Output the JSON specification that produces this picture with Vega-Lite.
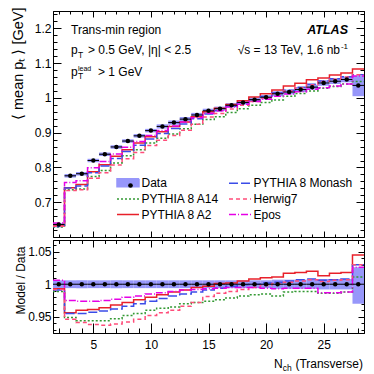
{
"$schema": "https://vega.github.io/schema/vega-lite/v6.json",
"padding": {"left": 9, "top": 6, "right": 0, "bottom": 0},
"spacing": 0,
"config": {
  "view": {"stroke": "black", "strokeWidth": 1},
  "font": "Liberation Sans",
  "axis": {"labelFont": "Liberation Sans", "labelFontSize": 12, "labelColor": "black", "tickColor": "black", "domainColor": "black", "titleFont": "Liberation Sans", "titleColor": "black", "titleFontWeight": "normal", "grid": false, "tickWidth": 1, "domainWidth": 1, "labelOverlap": false, "labelFlush": false, "zindex": 1}
},
"datasets": {
  "bins": [
    {"n":2,"lo":1.5,"hi":2.5,"d":0.636,"dlo":0.632,"dhi":0.640,"rlo":0.994,"rhi":1.006},
    {"n":3,"lo":2.5,"hi":3.5,"d":0.776,"dlo":0.771,"dhi":0.781,"rlo":0.994,"rhi":1.006},
    {"n":4,"lo":3.5,"hi":4.5,"d":0.782,"dlo":0.777,"dhi":0.787,"rlo":0.994,"rhi":1.006},
    {"n":5,"lo":4.5,"hi":5.5,"d":0.820,"dlo":0.815,"dhi":0.825,"rlo":0.994,"rhi":1.006},
    {"n":6,"lo":5.5,"hi":6.5,"d":0.838,"dlo":0.833,"dhi":0.843,"rlo":0.994,"rhi":1.006},
    {"n":7,"lo":6.5,"hi":7.5,"d":0.859,"dlo":0.854,"dhi":0.864,"rlo":0.994,"rhi":1.006},
    {"n":8,"lo":7.5,"hi":8.5,"d":0.876,"dlo":0.871,"dhi":0.881,"rlo":0.994,"rhi":1.006},
    {"n":9,"lo":8.5,"hi":9.5,"d":0.891,"dlo":0.886,"dhi":0.896,"rlo":0.994,"rhi":1.006},
    {"n":10,"lo":9.5,"hi":10.5,"d":0.906,"dlo":0.901,"dhi":0.911,"rlo":0.994,"rhi":1.006},
    {"n":11,"lo":10.5,"hi":11.5,"d":0.918,"dlo":0.912,"dhi":0.924,"rlo":0.994,"rhi":1.006},
    {"n":12,"lo":11.5,"hi":12.5,"d":0.929,"dlo":0.923,"dhi":0.935,"rlo":0.994,"rhi":1.006},
    {"n":13,"lo":12.5,"hi":13.5,"d":0.939,"dlo":0.933,"dhi":0.945,"rlo":0.994,"rhi":1.006},
    {"n":14,"lo":13.5,"hi":14.5,"d":0.951,"dlo":0.945,"dhi":0.957,"rlo":0.994,"rhi":1.006},
    {"n":15,"lo":14.5,"hi":15.5,"d":0.963,"dlo":0.957,"dhi":0.969,"rlo":0.994,"rhi":1.006},
    {"n":16,"lo":15.5,"hi":16.5,"d":0.969,"dlo":0.963,"dhi":0.975,"rlo":0.994,"rhi":1.006},
    {"n":17,"lo":16.5,"hi":17.5,"d":0.979,"dlo":0.973,"dhi":0.985,"rlo":0.994,"rhi":1.006},
    {"n":18,"lo":17.5,"hi":18.5,"d":0.987,"dlo":0.981,"dhi":0.993,"rlo":0.994,"rhi":1.006},
    {"n":19,"lo":18.5,"hi":19.5,"d":0.995,"dlo":0.989,"dhi":1.001,"rlo":0.994,"rhi":1.006},
    {"n":20,"lo":19.5,"hi":20.5,"d":1.002,"dlo":0.996,"dhi":1.008,"rlo":0.994,"rhi":1.006},
    {"n":21,"lo":20.5,"hi":21.5,"d":1.012,"dlo":1.005,"dhi":1.019,"rlo":0.993,"rhi":1.007},
    {"n":22,"lo":21.5,"hi":22.5,"d":1.017,"dlo":1.010,"dhi":1.024,"rlo":0.993,"rhi":1.007},
    {"n":23,"lo":22.5,"hi":23.5,"d":1.024,"dlo":1.017,"dhi":1.031,"rlo":0.993,"rhi":1.007},
    {"n":24,"lo":23.5,"hi":24.5,"d":1.031,"dlo":1.024,"dhi":1.038,"rlo":0.993,"rhi":1.007},
    {"n":25,"lo":24.5,"hi":25.5,"d":1.043,"dlo":1.035,"dhi":1.051,"rlo":0.992,"rhi":1.008},
    {"n":26,"lo":25.5,"hi":26.5,"d":1.048,"dlo":1.040,"dhi":1.056,"rlo":0.992,"rhi":1.008},
    {"n":27,"lo":26.5,"hi":27.5,"d":1.053,"dlo":1.045,"dhi":1.061,"rlo":0.992,"rhi":1.008},
    {"n":28,"lo":27.5,"hi":28.5,"d":1.036,"dlo":1.005,"dhi":1.063,"rlo":0.970,"rhi":1.026}
  ],
  "models": [
    {"gen":"PYTHIA 8 A14","n":2,"lo":1.5,"hi":2.5,"v":0.629,"r":0.989},
    {"gen":"PYTHIA 8 A14","n":3,"lo":2.5,"hi":3.5,"v":0.736,"r":0.949},
    {"gen":"PYTHIA 8 A14","n":4,"lo":3.5,"hi":4.5,"v":0.738,"r":0.944},
    {"gen":"PYTHIA 8 A14","n":5,"lo":4.5,"hi":5.5,"v":0.774,"r":0.944},
    {"gen":"PYTHIA 8 A14","n":6,"lo":5.5,"hi":6.5,"v":0.791,"r":0.944},
    {"gen":"PYTHIA 8 A14","n":7,"lo":6.5,"hi":7.5,"v":0.813,"r":0.947},
    {"gen":"PYTHIA 8 A14","n":8,"lo":7.5,"hi":8.5,"v":0.834,"r":0.952},
    {"gen":"PYTHIA 8 A14","n":9,"lo":8.5,"hi":9.5,"v":0.851,"r":0.955},
    {"gen":"PYTHIA 8 A14","n":10,"lo":9.5,"hi":10.5,"v":0.870,"r":0.960},
    {"gen":"PYTHIA 8 A14","n":11,"lo":10.5,"hi":11.5,"v":0.884,"r":0.963},
    {"gen":"PYTHIA 8 A14","n":12,"lo":11.5,"hi":12.5,"v":0.896,"r":0.965},
    {"gen":"PYTHIA 8 A14","n":13,"lo":12.5,"hi":13.5,"v":0.911,"r":0.970},
    {"gen":"PYTHIA 8 A14","n":14,"lo":13.5,"hi":14.5,"v":0.924,"r":0.972},
    {"gen":"PYTHIA 8 A14","n":15,"lo":14.5,"hi":15.5,"v":0.938,"r":0.974},
    {"gen":"PYTHIA 8 A14","n":16,"lo":15.5,"hi":16.5,"v":0.946,"r":0.976},
    {"gen":"PYTHIA 8 A14","n":17,"lo":16.5,"hi":17.5,"v":0.958,"r":0.979},
    {"gen":"PYTHIA 8 A14","n":18,"lo":17.5,"hi":18.5,"v":0.969,"r":0.982},
    {"gen":"PYTHIA 8 A14","n":19,"lo":18.5,"hi":19.5,"v":0.979,"r":0.984},
    {"gen":"PYTHIA 8 A14","n":20,"lo":19.5,"hi":20.5,"v":0.987,"r":0.985},
    {"gen":"PYTHIA 8 A14","n":21,"lo":20.5,"hi":21.5,"v":0.994,"r":0.982},
    {"gen":"PYTHIA 8 A14","n":22,"lo":21.5,"hi":22.5,"v":1.005,"r":0.988},
    {"gen":"PYTHIA 8 A14","n":23,"lo":22.5,"hi":23.5,"v":1.013,"r":0.989},
    {"gen":"PYTHIA 8 A14","n":24,"lo":23.5,"hi":24.5,"v":1.020,"r":0.989},
    {"gen":"PYTHIA 8 A14","n":25,"lo":24.5,"hi":25.5,"v":1.028,"r":0.986},
    {"gen":"PYTHIA 8 A14","n":26,"lo":25.5,"hi":26.5,"v":1.033,"r":0.986},
    {"gen":"PYTHIA 8 A14","n":27,"lo":26.5,"hi":27.5,"v":1.040,"r":0.988},
    {"gen":"PYTHIA 8 A14","n":28,"lo":27.5,"hi":28.5,"v":1.047,"r":1.011},
    {"gen":"PYTHIA 8 A2","n":2,"lo":1.5,"hi":2.5,"v":0.632,"r":0.993},
    {"gen":"PYTHIA 8 A2","n":3,"lo":2.5,"hi":3.5,"v":0.742,"r":0.956},
    {"gen":"PYTHIA 8 A2","n":4,"lo":3.5,"hi":4.5,"v":0.751,"r":0.960},
    {"gen":"PYTHIA 8 A2","n":5,"lo":4.5,"hi":5.5,"v":0.788,"r":0.961},
    {"gen":"PYTHIA 8 A2","n":6,"lo":5.5,"hi":6.5,"v":0.808,"r":0.964},
    {"gen":"PYTHIA 8 A2","n":7,"lo":6.5,"hi":7.5,"v":0.832,"r":0.968},
    {"gen":"PYTHIA 8 A2","n":8,"lo":7.5,"hi":8.5,"v":0.851,"r":0.972},
    {"gen":"PYTHIA 8 A2","n":9,"lo":8.5,"hi":9.5,"v":0.870,"r":0.976},
    {"gen":"PYTHIA 8 A2","n":10,"lo":9.5,"hi":10.5,"v":0.888,"r":0.980},
    {"gen":"PYTHIA 8 A2","n":11,"lo":10.5,"hi":11.5,"v":0.903,"r":0.984},
    {"gen":"PYTHIA 8 A2","n":12,"lo":11.5,"hi":12.5,"v":0.918,"r":0.988},
    {"gen":"PYTHIA 8 A2","n":13,"lo":12.5,"hi":13.5,"v":0.931,"r":0.991},
    {"gen":"PYTHIA 8 A2","n":14,"lo":13.5,"hi":14.5,"v":0.946,"r":0.995},
    {"gen":"PYTHIA 8 A2","n":15,"lo":14.5,"hi":15.5,"v":0.960,"r":0.997},
    {"gen":"PYTHIA 8 A2","n":16,"lo":15.5,"hi":16.5,"v":0.970,"r":1.001},
    {"gen":"PYTHIA 8 A2","n":17,"lo":16.5,"hi":17.5,"v":0.981,"r":1.002},
    {"gen":"PYTHIA 8 A2","n":18,"lo":17.5,"hi":18.5,"v":0.992,"r":1.005},
    {"gen":"PYTHIA 8 A2","n":19,"lo":18.5,"hi":19.5,"v":1.003,"r":1.008},
    {"gen":"PYTHIA 8 A2","n":20,"lo":19.5,"hi":20.5,"v":1.012,"r":1.010},
    {"gen":"PYTHIA 8 A2","n":21,"lo":20.5,"hi":21.5,"v":1.023,"r":1.011},
    {"gen":"PYTHIA 8 A2","n":22,"lo":21.5,"hi":22.5,"v":1.034,"r":1.017},
    {"gen":"PYTHIA 8 A2","n":23,"lo":22.5,"hi":23.5,"v":1.042,"r":1.018},
    {"gen":"PYTHIA 8 A2","n":24,"lo":23.5,"hi":24.5,"v":1.052,"r":1.020},
    {"gen":"PYTHIA 8 A2","n":25,"lo":24.5,"hi":25.5,"v":1.057,"r":1.013},
    {"gen":"PYTHIA 8 A2","n":26,"lo":25.5,"hi":26.5,"v":1.066,"r":1.017},
    {"gen":"PYTHIA 8 A2","n":27,"lo":26.5,"hi":27.5,"v":1.072,"r":1.018},
    {"gen":"PYTHIA 8 A2","n":28,"lo":27.5,"hi":28.5,"v":1.083,"r":1.045},
    {"gen":"PYTHIA 8 Monash","n":2,"lo":1.5,"hi":2.5,"v":0.630,"r":0.991},
    {"gen":"PYTHIA 8 Monash","n":3,"lo":2.5,"hi":3.5,"v":0.741,"r":0.955},
    {"gen":"PYTHIA 8 Monash","n":4,"lo":3.5,"hi":4.5,"v":0.747,"r":0.955},
    {"gen":"PYTHIA 8 Monash","n":5,"lo":4.5,"hi":5.5,"v":0.785,"r":0.957},
    {"gen":"PYTHIA 8 Monash","n":6,"lo":5.5,"hi":6.5,"v":0.804,"r":0.959},
    {"gen":"PYTHIA 8 Monash","n":7,"lo":6.5,"hi":7.5,"v":0.826,"r":0.962},
    {"gen":"PYTHIA 8 Monash","n":8,"lo":7.5,"hi":8.5,"v":0.846,"r":0.966},
    {"gen":"PYTHIA 8 Monash","n":9,"lo":8.5,"hi":9.5,"v":0.864,"r":0.970},
    {"gen":"PYTHIA 8 Monash","n":10,"lo":9.5,"hi":10.5,"v":0.882,"r":0.974},
    {"gen":"PYTHIA 8 Monash","n":11,"lo":10.5,"hi":11.5,"v":0.898,"r":0.978},
    {"gen":"PYTHIA 8 Monash","n":12,"lo":11.5,"hi":12.5,"v":0.912,"r":0.982},
    {"gen":"PYTHIA 8 Monash","n":13,"lo":12.5,"hi":13.5,"v":0.925,"r":0.985},
    {"gen":"PYTHIA 8 Monash","n":14,"lo":13.5,"hi":14.5,"v":0.940,"r":0.988},
    {"gen":"PYTHIA 8 Monash","n":15,"lo":14.5,"hi":15.5,"v":0.954,"r":0.991},
    {"gen":"PYTHIA 8 Monash","n":16,"lo":15.5,"hi":16.5,"v":0.963,"r":0.994},
    {"gen":"PYTHIA 8 Monash","n":17,"lo":16.5,"hi":17.5,"v":0.976,"r":0.997},
    {"gen":"PYTHIA 8 Monash","n":18,"lo":17.5,"hi":18.5,"v":0.986,"r":0.999},
    {"gen":"PYTHIA 8 Monash","n":19,"lo":18.5,"hi":19.5,"v":0.995,"r":1.000},
    {"gen":"PYTHIA 8 Monash","n":20,"lo":19.5,"hi":20.5,"v":1.004,"r":1.002},
    {"gen":"PYTHIA 8 Monash","n":21,"lo":20.5,"hi":21.5,"v":1.015,"r":1.003},
    {"gen":"PYTHIA 8 Monash","n":22,"lo":21.5,"hi":22.5,"v":1.022,"r":1.005},
    {"gen":"PYTHIA 8 Monash","n":23,"lo":22.5,"hi":23.5,"v":1.031,"r":1.007},
    {"gen":"PYTHIA 8 Monash","n":24,"lo":23.5,"hi":24.5,"v":1.039,"r":1.008},
    {"gen":"PYTHIA 8 Monash","n":25,"lo":24.5,"hi":25.5,"v":1.049,"r":1.006},
    {"gen":"PYTHIA 8 Monash","n":26,"lo":25.5,"hi":26.5,"v":1.055,"r":1.007},
    {"gen":"PYTHIA 8 Monash","n":27,"lo":26.5,"hi":27.5,"v":1.061,"r":1.008},
    {"gen":"PYTHIA 8 Monash","n":28,"lo":27.5,"hi":28.5,"v":1.067,"r":1.030},
    {"gen":"Herwig7","n":2,"lo":1.5,"hi":2.5,"v":0.631,"r":0.992},
    {"gen":"Herwig7","n":3,"lo":2.5,"hi":3.5,"v":0.734,"r":0.946},
    {"gen":"Herwig7","n":4,"lo":3.5,"hi":4.5,"v":0.736,"r":0.941},
    {"gen":"Herwig7","n":5,"lo":4.5,"hi":5.5,"v":0.769,"r":0.938},
    {"gen":"Herwig7","n":6,"lo":5.5,"hi":6.5,"v":0.785,"r":0.937},
    {"gen":"Herwig7","n":7,"lo":6.5,"hi":7.5,"v":0.807,"r":0.939},
    {"gen":"Herwig7","n":8,"lo":7.5,"hi":8.5,"v":0.825,"r":0.942},
    {"gen":"Herwig7","n":9,"lo":8.5,"hi":9.5,"v":0.843,"r":0.946},
    {"gen":"Herwig7","n":10,"lo":9.5,"hi":10.5,"v":0.863,"r":0.952},
    {"gen":"Herwig7","n":11,"lo":10.5,"hi":11.5,"v":0.878,"r":0.956},
    {"gen":"Herwig7","n":12,"lo":11.5,"hi":12.5,"v":0.892,"r":0.960},
    {"gen":"Herwig7","n":13,"lo":12.5,"hi":13.5,"v":0.907,"r":0.966},
    {"gen":"Herwig7","n":14,"lo":13.5,"hi":14.5,"v":0.924,"r":0.972},
    {"gen":"Herwig7","n":15,"lo":14.5,"hi":15.5,"v":0.945,"r":0.981},
    {"gen":"Herwig7","n":16,"lo":15.5,"hi":16.5,"v":0.955,"r":0.986},
    {"gen":"Herwig7","n":17,"lo":16.5,"hi":17.5,"v":0.968,"r":0.989},
    {"gen":"Herwig7","n":18,"lo":17.5,"hi":18.5,"v":0.979,"r":0.992},
    {"gen":"Herwig7","n":19,"lo":18.5,"hi":19.5,"v":0.990,"r":0.995},
    {"gen":"Herwig7","n":20,"lo":19.5,"hi":20.5,"v":1.000,"r":0.998},
    {"gen":"Herwig7","n":21,"lo":20.5,"hi":21.5,"v":1.013,"r":1.001},
    {"gen":"Herwig7","n":22,"lo":21.5,"hi":22.5,"v":1.020,"r":1.003},
    {"gen":"Herwig7","n":23,"lo":22.5,"hi":23.5,"v":1.029,"r":1.005},
    {"gen":"Herwig7","n":24,"lo":23.5,"hi":24.5,"v":1.038,"r":1.007},
    {"gen":"Herwig7","n":25,"lo":24.5,"hi":25.5,"v":1.047,"r":1.004},
    {"gen":"Herwig7","n":26,"lo":25.5,"hi":26.5,"v":1.054,"r":1.006},
    {"gen":"Herwig7","n":27,"lo":26.5,"hi":27.5,"v":1.060,"r":1.007},
    {"gen":"Herwig7","n":28,"lo":27.5,"hi":28.5,"v":1.067,"r":1.030},
    {"gen":"Epos","n":2,"lo":1.5,"hi":2.5,"v":0.640,"r":1.006},
    {"gen":"Epos","n":3,"lo":2.5,"hi":3.5,"v":0.757,"r":0.975},
    {"gen":"Epos","n":4,"lo":3.5,"hi":4.5,"v":0.762,"r":0.974},
    {"gen":"Epos","n":5,"lo":4.5,"hi":5.5,"v":0.799,"r":0.974},
    {"gen":"Epos","n":6,"lo":5.5,"hi":6.5,"v":0.817,"r":0.975},
    {"gen":"Epos","n":7,"lo":6.5,"hi":7.5,"v":0.839,"r":0.977},
    {"gen":"Epos","n":8,"lo":7.5,"hi":8.5,"v":0.858,"r":0.980},
    {"gen":"Epos","n":9,"lo":8.5,"hi":9.5,"v":0.875,"r":0.982},
    {"gen":"Epos","n":10,"lo":9.5,"hi":10.5,"v":0.892,"r":0.985},
    {"gen":"Epos","n":11,"lo":10.5,"hi":11.5,"v":0.906,"r":0.987},
    {"gen":"Epos","n":12,"lo":11.5,"hi":12.5,"v":0.919,"r":0.989},
    {"gen":"Epos","n":13,"lo":12.5,"hi":13.5,"v":0.931,"r":0.991},
    {"gen":"Epos","n":14,"lo":13.5,"hi":14.5,"v":0.943,"r":0.992},
    {"gen":"Epos","n":15,"lo":14.5,"hi":15.5,"v":0.956,"r":0.993},
    {"gen":"Epos","n":16,"lo":15.5,"hi":16.5,"v":0.963,"r":0.994},
    {"gen":"Epos","n":17,"lo":16.5,"hi":17.5,"v":0.974,"r":0.995},
    {"gen":"Epos","n":18,"lo":17.5,"hi":18.5,"v":0.982,"r":0.995},
    {"gen":"Epos","n":19,"lo":18.5,"hi":19.5,"v":0.990,"r":0.995},
    {"gen":"Epos","n":20,"lo":19.5,"hi":20.5,"v":0.996,"r":0.994},
    {"gen":"Epos","n":21,"lo":20.5,"hi":21.5,"v":1.005,"r":0.993},
    {"gen":"Epos","n":22,"lo":21.5,"hi":22.5,"v":1.011,"r":0.994},
    {"gen":"Epos","n":23,"lo":22.5,"hi":23.5,"v":1.018,"r":0.994},
    {"gen":"Epos","n":24,"lo":23.5,"hi":24.5,"v":1.025,"r":0.994},
    {"gen":"Epos","n":25,"lo":24.5,"hi":25.5,"v":1.029,"r":0.987},
    {"gen":"Epos","n":26,"lo":25.5,"hi":26.5,"v":1.034,"r":0.987},
    {"gen":"Epos","n":27,"lo":26.5,"hi":27.5,"v":1.040,"r":0.988},
    {"gen":"Epos","n":28,"lo":27.5,"hi":28.5,"v":1.063,"r":1.026}
  ]
},
"vconcat": [
  {
    "width": 311, "height": 226,
    "layer": [
      {
        "data": {"name": "bins"},
        "mark": {"type": "rect", "strokeWidth": 0},
        "encoding": {
          "x": {"field": "lo", "type": "quantitative", "scale": {"domain": [1.5, 28.5], "nice": false, "zero": false},
                "axis": {"orient": "bottom", "values": [2,3,4,5,6,7,8,9,10,11,12,13,14,15,16,17,18,19,20,21,22,23,24,25,26,27,28], "labels": false, "title": null,
                         "tickSize": {"condition": {"test": "datum.value % 5 === 0", "value": -6}, "value": -3}}},
          "x2": {"field": "hi"},
          "y": {"field": "dlo", "type": "quantitative", "scale": {"domain": [0.6, 1.25], "nice": false, "zero": false},
                "axis": {"orient": "left", "values": [0.62,0.64,0.66,0.68,0.7,0.72,0.74,0.76,0.78,0.8,0.82,0.84,0.86,0.88,0.9,0.92,0.94,0.96,0.98,1,1.02,1.04,1.06,1.08,1.1,1.12,1.14,1.16,1.18,1.2,1.22,1.24],
                         "tickSize": {"condition": {"test": "abs(datum.value*10 - round(datum.value*10)) < 0.001", "value": -8}, "value": -4},
                         "labelExpr": "abs(datum.value*10 - round(datum.value*10)) < 0.001 ? format(datum.value, '~g') : ''",
                         "labelPadding": 10,
                         "title": "⟨  mean pₜ  ⟩  [GeV]", "titleFontSize": 14.5, "titleAngle": 270, "titleAlign": "right", "titleBaseline": "alphabetic", "titleX": -31, "titleY": -4}},
          "y2": {"field": "dhi"},
          "color": {"datum": "Data", "type": "nominal",
                    "scale": {"domain": ["Data","PYTHIA 8 A14","PYTHIA 8 A2","PYTHIA 8 Monash","Herwig7","Epos"], "range": ["#9797fa","#339933","#e8202a","#3b4ce8","#ff4d7a","#e600e6"]},
                    "legend": {"orient": "none", "legendX": 63, "legendY": 165, "columns": 2, "columnPadding": 6, "rowPadding": 2.5, "title": null, "padding": 0,
                               "labelFont": "Liberation Sans", "labelFontSize": 12, "labelColor": "black", "labelOffset": 7, "labelLimit": 300,
                               "symbolSize": 121, "symbolOffset": 5.5, "symbolStrokeWidth": 1.5,
                               "encode": {"symbols": {"update": {
                                 "shape": {"signal": "datum.value === 'Data' ? 'M-2,-0.72H2V0.72H-2Z' : 'M-2,0H2'"},
                                 "fill": {"signal": "datum.value === 'Data' ? '#9797fa' : 'transparent'"},
                                 "stroke": {"signal": "datum.value === 'PYTHIA 8 Monash' ? '#3b4ce8' : datum.value === 'PYTHIA 8 A14' ? '#339933' : datum.value === 'Herwig7' ? '#ff4d7a' : datum.value === 'PYTHIA 8 A2' ? '#e8202a' : datum.value === 'Epos' ? '#e600e6' : 'transparent'"},
                                 "strokeDash": {"signal": "datum.value === 'PYTHIA 8 A14' ? [2,2] : datum.value === 'PYTHIA 8 Monash' ? [9,3] : datum.value === 'Herwig7' ? [4,3] : datum.value === 'Epos' ? [7,2,1,2] : [1,0]"},
                                 "strokeWidth": {"value": 1.5},
                                 "opacity": {"value": 1}
                               }}}}}
        }
      },
      {
        "data": {"name": "models"},
        "transform": [{"fold": ["lo", "hi"], "as": ["edge", "xe"]}],
        "mark": {"type": "line", "strokeWidth": 1.5, "clip": true},
        "encoding": {
          "x": {"field": "xe", "type": "quantitative",
                "axis": {"orient": "top", "values": [2,3,4,5,6,7,8,9,10,11,12,13,14,15,16,17,18,19,20,21,22,23,24,25,26,27,28], "labels": false, "title": null,
                         "tickSize": {"condition": {"test": "datum.value % 5 === 0", "value": -6}, "value": -3}}},
          "y": {"field": "v", "type": "quantitative",
                "axis": {"orient": "right", "values": [0.62,0.64,0.66,0.68,0.7,0.72,0.74,0.76,0.78,0.8,0.82,0.84,0.86,0.88,0.9,0.92,0.94,0.96,0.98,1,1.02,1.04,1.06,1.08,1.1,1.12,1.14,1.16,1.18,1.2,1.22,1.24], "labels": false, "title": null,
                         "tickSize": {"condition": {"test": "abs(datum.value*10 - round(datum.value*10)) < 0.001", "value": -8}, "value": -4}}},
          "color": {"field": "gen", "type": "nominal",
                    "scale": {"domain": ["Data","PYTHIA 8 A14","PYTHIA 8 A2","PYTHIA 8 Monash","Herwig7","Epos"], "range": ["#9797fa","#339933","#e8202a","#3b4ce8","#ff4d7a","#e600e6"]},
                    "legend": {"orient": "none", "legendX": 63, "legendY": 165, "columns": 2, "columnPadding": 6, "rowPadding": 2.5, "title": null, "padding": 0,
                               "labelFont": "Liberation Sans", "labelFontSize": 12, "labelColor": "black", "labelOffset": 7, "labelLimit": 300,
                               "symbolSize": 121, "symbolOffset": 5.5, "symbolStrokeWidth": 1.5,
                               "encode": {"symbols": {"update": {
                                 "shape": {"signal": "datum.value === 'Data' ? 'M-2,-0.72H2V0.72H-2Z' : 'M-2,0H2'"},
                                 "fill": {"signal": "datum.value === 'Data' ? '#9797fa' : 'transparent'"},
                                 "stroke": {"signal": "datum.value === 'PYTHIA 8 Monash' ? '#3b4ce8' : datum.value === 'PYTHIA 8 A14' ? '#339933' : datum.value === 'Herwig7' ? '#ff4d7a' : datum.value === 'PYTHIA 8 A2' ? '#e8202a' : datum.value === 'Epos' ? '#e600e6' : 'transparent'"},
                                 "strokeDash": {"signal": "datum.value === 'PYTHIA 8 A14' ? [2,2] : datum.value === 'PYTHIA 8 Monash' ? [9,3] : datum.value === 'Herwig7' ? [4,3] : datum.value === 'Epos' ? [7,2,1,2] : [1,0]"},
                                 "strokeWidth": {"value": 1.5},
                                 "opacity": {"value": 1}
                               }}}}},
          "strokeDash": {"field": "gen", "type": "nominal",
                         "scale": {"domain": ["PYTHIA 8 A14","PYTHIA 8 A2","PYTHIA 8 Monash","Herwig7","Epos"], "range": [[2,2],[1,0],[9,3],[4,3],[7,2,1,2]]}, "legend": null},
          "order": [{"field": "n", "type": "quantitative"}, {"field": "edge", "type": "nominal", "sort": "descending"}]
        }
      },
      {
        "data": {"name": "bins"},
        "mark": {"type": "rule", "color": "black", "strokeWidth": 1},
        "encoding": {
          "x": {"field": "lo", "type": "quantitative", "axis": null},
          "x2": {"field": "hi"},
          "y": {"field": "d", "type": "quantitative", "axis": null}
        }
      },
      {
        "data": {"name": "bins"},
        "mark": {"type": "point", "filled": true, "size": 20, "opacity": 1},
        "encoding": {
          "x": {"field": "n", "type": "quantitative", "axis": null},
          "y": {"field": "d", "type": "quantitative", "axis": null},
          "fill": {"datum": "Data", "type": "nominal", "scale": {"domain": ["Data"], "range": ["black"]},
                   "legend": {"orient": "none", "legendX": 63, "legendY": 168.5, "title": null, "padding": 0, "symbolType": "circle", "symbolSize": 22, "symbolOffset": 8.5, "symbolStrokeWidth": 0, "labelExpr": "''", "labelFontSize": 12, "labelFont": "Liberation Sans"}}
        }
      },
      {
        "data": {"values": [{}]},
        "mark": {"type": "text", "text": "Trans-min region", "align": "left", "baseline": "alphabetic", "font": "Liberation Sans", "fontSize": 12, "color": "black"},
        "encoding": {"x": {"datum": 3.063, "type": "quantitative", "axis": null}, "y": {"datum": 1.1838, "type": "quantitative", "axis": null}}
      },
      {
        "data": {"values": [{}]},
        "mark": {"type": "text", "text": "p", "align": "left", "baseline": "alphabetic", "font": "Liberation Sans", "fontSize": 12, "color": "black"},
        "encoding": {"x": {"datum": 3.063, "type": "quantitative", "axis": null}, "y": {"datum": 1.1263, "type": "quantitative", "axis": null}}
      },
      {
        "data": {"values": [{}]},
        "mark": {"type": "text", "text": "T", "align": "left", "baseline": "alphabetic", "font": "Liberation Sans", "fontSize": 8.5, "color": "black", "dx": 7, "dy": 3.5},
        "encoding": {"x": {"datum": 3.063, "type": "quantitative", "axis": null}, "y": {"datum": 1.1263, "type": "quantitative", "axis": null}}
      },
      {
        "data": {"values": [{}]},
        "mark": {"type": "text", "text": "> 0.5 GeV, |η| < 2.5", "align": "left", "baseline": "alphabetic", "font": "Liberation Sans", "fontSize": 12, "color": "black", "dx": 17},
        "encoding": {"x": {"datum": 3.063, "type": "quantitative", "axis": null}, "y": {"datum": 1.1263, "type": "quantitative", "axis": null}}
      },
      {
        "data": {"values": [{}]},
        "mark": {"type": "text", "text": "p", "align": "left", "baseline": "alphabetic", "font": "Liberation Sans", "fontSize": 12, "color": "black"},
        "encoding": {"x": {"datum": 3.063, "type": "quantitative", "axis": null}, "y": {"datum": 1.0631, "type": "quantitative", "axis": null}}
      },
      {
        "data": {"values": [{}]},
        "mark": {"type": "text", "text": "lead", "align": "left", "baseline": "alphabetic", "font": "Liberation Sans", "fontSize": 7, "color": "black", "dx": 7, "dy": -5},
        "encoding": {"x": {"datum": 3.063, "type": "quantitative", "axis": null}, "y": {"datum": 1.0631, "type": "quantitative", "axis": null}}
      },
      {
        "data": {"values": [{}]},
        "mark": {"type": "text", "text": "T", "align": "left", "baseline": "alphabetic", "font": "Liberation Sans", "fontSize": 8.5, "color": "black", "dx": 7, "dy": 3.5},
        "encoding": {"x": {"datum": 3.063, "type": "quantitative", "axis": null}, "y": {"datum": 1.0631, "type": "quantitative", "axis": null}}
      },
      {
        "data": {"values": [{}]},
        "mark": {"type": "text", "text": "> 1 GeV", "align": "left", "baseline": "alphabetic", "font": "Liberation Sans", "fontSize": 12, "color": "black", "dx": 27},
        "encoding": {"x": {"datum": 3.063, "type": "quantitative", "axis": null}, "y": {"datum": 1.0631, "type": "quantitative", "axis": null}}
      },
      {
        "data": {"values": [{}]},
        "mark": {"type": "text", "text": "ATLAS", "align": "right", "baseline": "alphabetic", "font": "Liberation Sans", "fontSize": 12.5, "fontWeight": "bold", "fontStyle": "italic", "color": "black"},
        "encoding": {"x": {"datum": 27.111, "type": "quantitative", "axis": null}, "y": {"datum": 1.1838, "type": "quantitative", "axis": null}}
      },
      {
        "data": {"values": [{}]},
        "mark": {"type": "text", "text": "√s = 13 TeV, 1.6 nb", "align": "right", "baseline": "alphabetic", "font": "Liberation Sans", "fontSize": 12, "color": "black", "dx": -8},
        "encoding": {"x": {"datum": 27.111, "type": "quantitative", "axis": null}, "y": {"datum": 1.1263, "type": "quantitative", "axis": null}}
      },
      {
        "data": {"values": [{}]},
        "mark": {"type": "text", "text": "-1", "align": "right", "baseline": "alphabetic", "font": "Liberation Sans", "fontSize": 8, "color": "black", "dy": -5},
        "encoding": {"x": {"datum": 27.111, "type": "quantitative", "axis": null}, "y": {"datum": 1.1263, "type": "quantitative", "axis": null}}
      }
    ],
    "resolve": {"axis": {"x": "independent", "y": "independent"}}
  },
  {
    "width": 311, "height": 93,
    "layer": [
      {
        "data": {"name": "bins"},
        "mark": {"type": "rect", "strokeWidth": 0, "color": "#9797fa", "opacity": 1},
        "encoding": {
          "x": {"field": "lo", "type": "quantitative", "scale": {"domain": [1.5, 28.5], "nice": false, "zero": false},
                "axis": {"orient": "bottom", "values": [2,3,4,5,6,7,8,9,10,11,12,13,14,15,16,17,18,19,20,21,22,23,24,25,26,27,28], "title": null,
                         "tickSize": {"condition": {"test": "datum.value % 5 === 0", "value": -10}, "value": -5},
                         "labelExpr": "datum.value % 5 === 0 ? datum.label : ''", "labelPadding": 16}},
          "x2": {"field": "hi"},
          "y": {"field": "rlo", "type": "quantitative", "scale": {"domain": [0.925, 1.068], "nice": false, "zero": false},
                "axis": {"orient": "left", "values": [0.93,0.94,0.95,0.96,0.97,0.98,0.99,1,1.01,1.02,1.03,1.04,1.05,1.06],
                         "tickSize": {"condition": {"test": "abs(datum.value*20 - round(datum.value*20)) < 0.001", "value": -6}, "value": -3},
                         "labelExpr": "abs(datum.value*20 - round(datum.value*20)) < 0.001 ? format(datum.value, '~g') : ''",
                         "labelPadding": 8,
                         "title": "Model / Data", "titleFontSize": 12, "titleAngle": 270, "titleAlign": "center", "titleBaseline": "alphabetic", "titleX": -29, "titleY": 40}},
          "y2": {"field": "rhi"}
        }
      },
      {
        "data": {"name": "models"},
        "transform": [{"fold": ["lo", "hi"], "as": ["edge", "xe"]}],
        "mark": {"type": "line", "strokeWidth": 1.5, "clip": true},
        "encoding": {
          "x": {"field": "xe", "type": "quantitative",
                "axis": {"orient": "top", "values": [2,3,4,5,6,7,8,9,10,11,12,13,14,15,16,17,18,19,20,21,22,23,24,25,26,27,28], "labels": false, "title": null,
                         "tickSize": {"condition": {"test": "datum.value % 5 === 0", "value": -7}, "value": -3.5}}},
          "y": {"field": "r", "type": "quantitative",
                "axis": {"orient": "right", "values": [0.93,0.94,0.95,0.96,0.97,0.98,0.99,1,1.01,1.02,1.03,1.04,1.05,1.06], "labels": false, "title": null,
                         "tickSize": {"condition": {"test": "abs(datum.value*20 - round(datum.value*20)) < 0.001", "value": -6}, "value": -3}}},
          "color": {"field": "gen", "type": "nominal",
                    "scale": {"domain": ["Data","PYTHIA 8 A14","PYTHIA 8 A2","PYTHIA 8 Monash","Herwig7","Epos"], "range": ["#9797fa","#339933","#e8202a","#3b4ce8","#ff4d7a","#e600e6"]}, "legend": null},
          "strokeDash": {"field": "gen", "type": "nominal",
                         "scale": {"domain": ["PYTHIA 8 A14","PYTHIA 8 A2","PYTHIA 8 Monash","Herwig7","Epos"], "range": [[2,2],[1,0],[9,3],[4,3],[7,2,1,2]]}, "legend": null},
          "order": [{"field": "n", "type": "quantitative"}, {"field": "edge", "type": "nominal", "sort": "descending"}]
        }
      },
      {
        "data": {"name": "bins"},
        "mark": {"type": "rule", "color": "black", "strokeWidth": 1},
        "encoding": {
          "x": {"field": "lo", "type": "quantitative", "axis": null},
          "x2": {"field": "hi"},
          "y": {"datum": 1, "type": "quantitative", "axis": null}
        }
      },
      {
        "data": {"name": "bins"},
        "mark": {"type": "point", "filled": true, "size": 20, "opacity": 1, "color": "black"},
        "encoding": {
          "x": {"field": "n", "type": "quantitative", "axis": null},
          "y": {"datum": 1, "type": "quantitative", "axis": null}
        }
      },
      {
        "data": {"values": [{}]},
        "mark": {"type": "text", "text": "(Transverse)", "align": "right", "baseline": "alphabetic", "font": "Liberation Sans", "fontSize": 12, "color": "black"},
        "encoding": {"x": {"datum": 28.41, "type": "quantitative", "axis": null}, "y": {"datum": 0.8712, "type": "quantitative", "axis": null}}
      },
      {
        "data": {"values": [{}]},
        "mark": {"type": "text", "text": "ch", "align": "right", "baseline": "alphabetic", "font": "Liberation Sans", "fontSize": 8.5, "color": "black", "dx": -71.3, "dy": 3},
        "encoding": {"x": {"datum": 28.41, "type": "quantitative", "axis": null}, "y": {"datum": 0.8712, "type": "quantitative", "axis": null}}
      },
      {
        "data": {"values": [{}]},
        "mark": {"type": "text", "text": "N", "align": "right", "baseline": "alphabetic", "font": "Liberation Sans", "fontSize": 12, "color": "black", "dx": -80.3},
        "encoding": {"x": {"datum": 28.41, "type": "quantitative", "axis": null}, "y": {"datum": 0.8712, "type": "quantitative", "axis": null}}
      }
    ],
    "resolve": {"axis": {"x": "independent", "y": "independent"}}
  }
],
"resolve": {"scale": {"color": "independent", "fill": "independent", "strokeDash": "independent"}}
}
